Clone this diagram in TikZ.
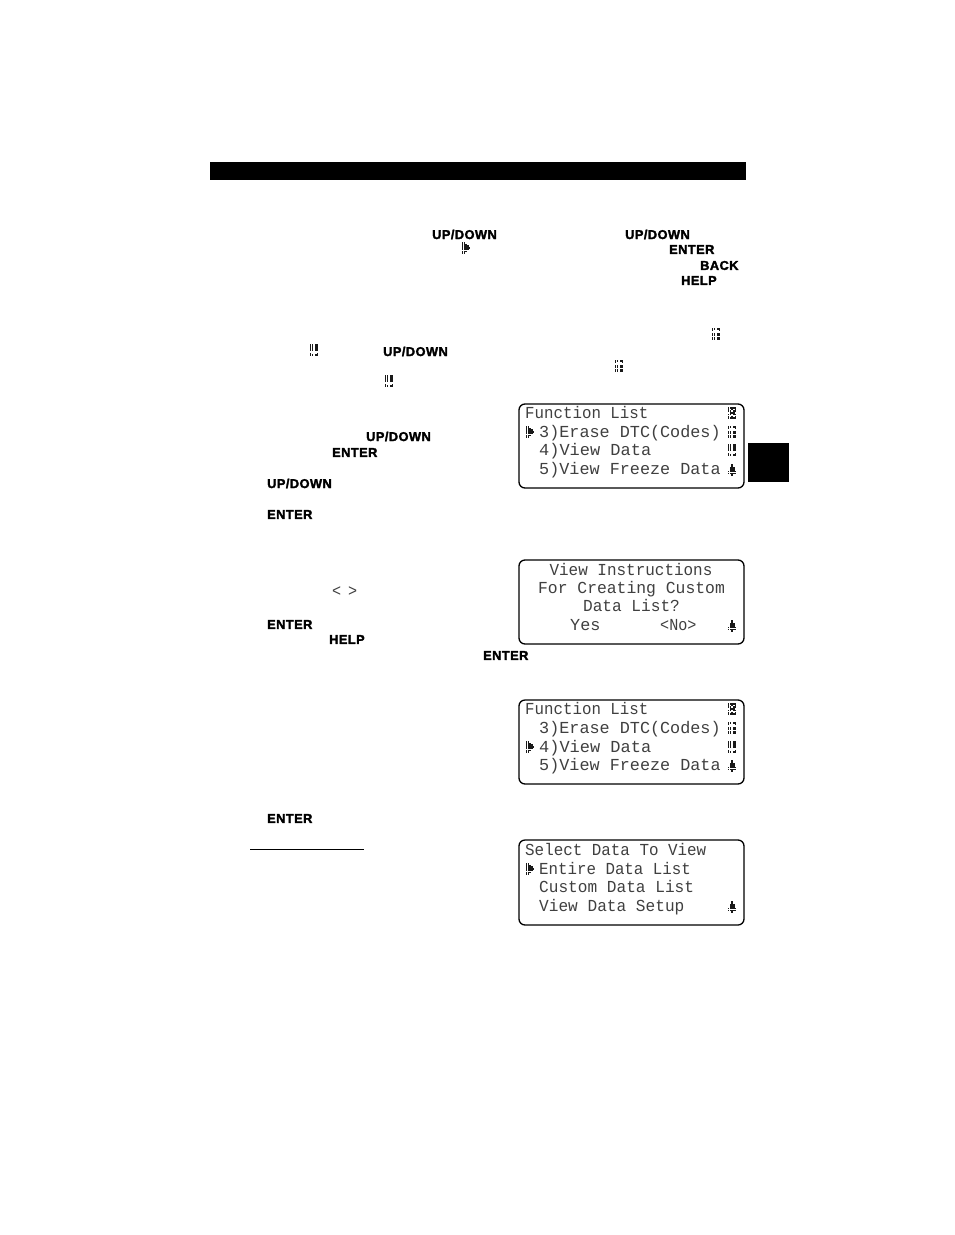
\documentclass[tikz,border=0pt]{standalone}
\usepackage{fontspec}
\newfontfamily\lcdfont{Liberation Mono}
\newfontfamily\keyfont{Liberation Sans Bold}[LetterSpace=3.5,FakeBold=2.2]
\newcommand{\lcdt}[2]{\scalebox{#1}[1]{#2}}
\newcommand{\dotcell}[2]{\fill (#1*1.7,-#2*1.7) rectangle ++(1.65,-1.5);}
\tikzset{
  x=1pt,y=1pt,
  lcdbox/.style={draw=black,line width=1.3pt,rounded corners=6pt,fill=white},
  lcdline/.style={anchor=base west,inner sep=0pt,text=black!75,font=\lcdfont\fontsize{16.8}{18}\selectfont},
  keyname/.style={anchor=west,inner sep=0pt,font=\keyfont\fontsize{12.8}{14}\selectfont},
  dotglyph/.style={black!90},
  pointer/.pic={\begin{scope}[shift={(-4.2,6)},dotglyph]
    \foreach \r/\cs in {0/{0,1},1/{0,1,2},2/{0,1,2,3},3/{0,1,2,3,4},4/{0,1,2,3},5/{0,1,2},6/{0,1}}
      \foreach \c in \cs {\dotcell{\c}{\r}}
  \end{scope}},
  upicon/.pic={\begin{scope}[shift={(-4.2,6)},dotglyph]
    \foreach \r/\cs in {0/{0,1,3,4},1/{0,1,3,4},2/{0,1,3,4},3/{0,1,3,4},5/{0,4},6/{0,1,3,4}}
      \foreach \c in \cs {\dotcell{\c}{\r}}
  \end{scope}},
  downicon/.pic={\begin{scope}[shift={(-4.2,6)},dotglyph]
    \foreach \r/\cs in {0/{0,1,3,4},1/{0,4},3/{0,1,3,4},4/{0,1,3,4},5/{0,1,3,4},6/{0,1,3,4}}
      \foreach \c in \cs {\dotcell{\c}{\r}}
  \end{scope}},
  fullicon/.pic={\begin{scope}[shift={(-4.2,6)},dotglyph]
    \foreach \r/\cs in {0/{0,1,2,3,4},1/{0,2,4},2/{0,1,3,4},3/{1,2,3},4/{0,1,3,4},5/{0,2,4},6/{0,1,2,3,4}}
      \foreach \c in \cs {\dotcell{\c}{\r}}
  \end{scope}},
  bellicon/.pic={\begin{scope}[shift={(-4.2,6)},dotglyph]
    \foreach \r/\cs in {0/{2},1/{2},2/{1,2,3},3/{1,2,3},4/{0,1,2,3,4},5/{0,1,2,3,4},6/{2}}
      \foreach \c in \cs {\dotcell{\c}{\r}}
  \end{scope}}
}
\begin{document}
\begin{tikzpicture}
\useasboundingbox (0,0) rectangle (954,-1235);
\fill[black] (210,-162) rectangle (746,-180);
\fill[black] (748,-443) rectangle (789,-482);
% inline keys
\node[keyname] (k1) at (432,-234.5) {UP/DOWN};
\node[keyname] (k2) at (625,-234.5) {UP/DOWN};
\node[keyname] (k3) at (669,-249.5) {ENTER};
\node[keyname] (k4) at (700,-265.5) {BACK};
\node[keyname] (k5) at (681,-280.5) {HELP};
\node[keyname] (k6) at (383,-351.5) {UP/DOWN};
\node[keyname] (k7) at (366,-436.5) {UP/DOWN};
\node[keyname] (k8) at (332,-452.5) {ENTER};
\node[keyname] (k9) at (267,-483.5) {UP/DOWN};
\node[keyname] (k10) at (267,-514.5) {ENTER};
\node[keyname] (k11) at (267,-624.5) {ENTER};
\node[keyname] (k12) at (329,-639.5) {HELP};
\node[keyname] (k13) at (483,-655.5) {ENTER};
\node[keyname] (k14) at (267,-818.5) {ENTER};
\pic at (466,-248) {pointer};
\pic at (716,-334) {downicon};
\pic at (314,-350) {upicon};
\pic at (619,-366) {downicon};
\pic at (389,-381) {upicon};
\node[lcdline] (lt) at (332,-596) {\lcdt{.9}{<}};
\node[lcdline] (gt) at (348,-596) {\lcdt{.9}{>}};
\draw[black] (250,-849.5) -- (364,-849.5);
% screen 1
\draw[lcdbox] (519,-404) rectangle (744,-488);
\node[lcdline] (a1) at (525,-418.5) {\lcdt{.94}{Function List}};
\node[lcdline] (a2) at (539,-437.3) {3)Erase DTC(Codes)};
\node[lcdline] (a3) at (539,-455.3) {\lcdt{1.01}{4)View Data}};
\node[lcdline] (a4) at (539,-474.3) {5)View Freeze Data};
\pic at (530,-432) {pointer};
\pic at (732,-413) {fullicon};
\pic at (732,-432) {downicon};
\pic at (732,-450) {upicon};
\pic at (732,-470) {bellicon};
% screen 2
\draw[lcdbox] (519,-560) rectangle (744,-644);
\node[lcdline,anchor=base] (b1) at (631,-575) {\lcdt{.95}{View Instructions}};
\node[lcdline,anchor=base] (b2) at (631.5,-593.5) {\lcdt{.975}{For Creating Custom}};
\node[lcdline,anchor=base] (b3) at (631.5,-611.5) {\lcdt{.96}{Data List?}};
\node[lcdline] (b4) at (570,-630.3) {Yes};
\node[lcdline] (b5) at (660,-630.3) {\lcdt{.9}{<No>}};
\pic at (732,-626) {bellicon};
% screen 3
\draw[lcdbox] (519,-700) rectangle (744,-784);
\node[lcdline] (c1) at (525,-714.5) {\lcdt{.94}{Function List}};
\node[lcdline] (c2) at (539,-733.3) {3)Erase DTC(Codes)};
\node[lcdline] (c3) at (539,-752.3) {\lcdt{1.01}{4)View Data}};
\node[lcdline] (c4) at (539,-770.3) {5)View Freeze Data};
\pic at (530,-747) {pointer};
\pic at (732,-709) {fullicon};
\pic at (732,-728) {downicon};
\pic at (732,-747) {upicon};
\pic at (732,-766) {bellicon};
% screen 4
\draw[lcdbox] (519,-840) rectangle (744,-925);
\node[lcdline] (d1) at (525,-855.5) {\lcdt{.945}{Select Data To View}};
\node[lcdline] (d2) at (539,-874.5) {\lcdt{.94}{Entire Data List}};
\node[lcdline] (d3) at (539,-892.5) {\lcdt{.96}{Custom Data List}};
\node[lcdline] (d4) at (539,-911.3) {\lcdt{.96}{View Data Setup}};
\pic at (530,-869) {pointer};
\pic at (732,-907) {bellicon};
\end{tikzpicture}
\end{document}
